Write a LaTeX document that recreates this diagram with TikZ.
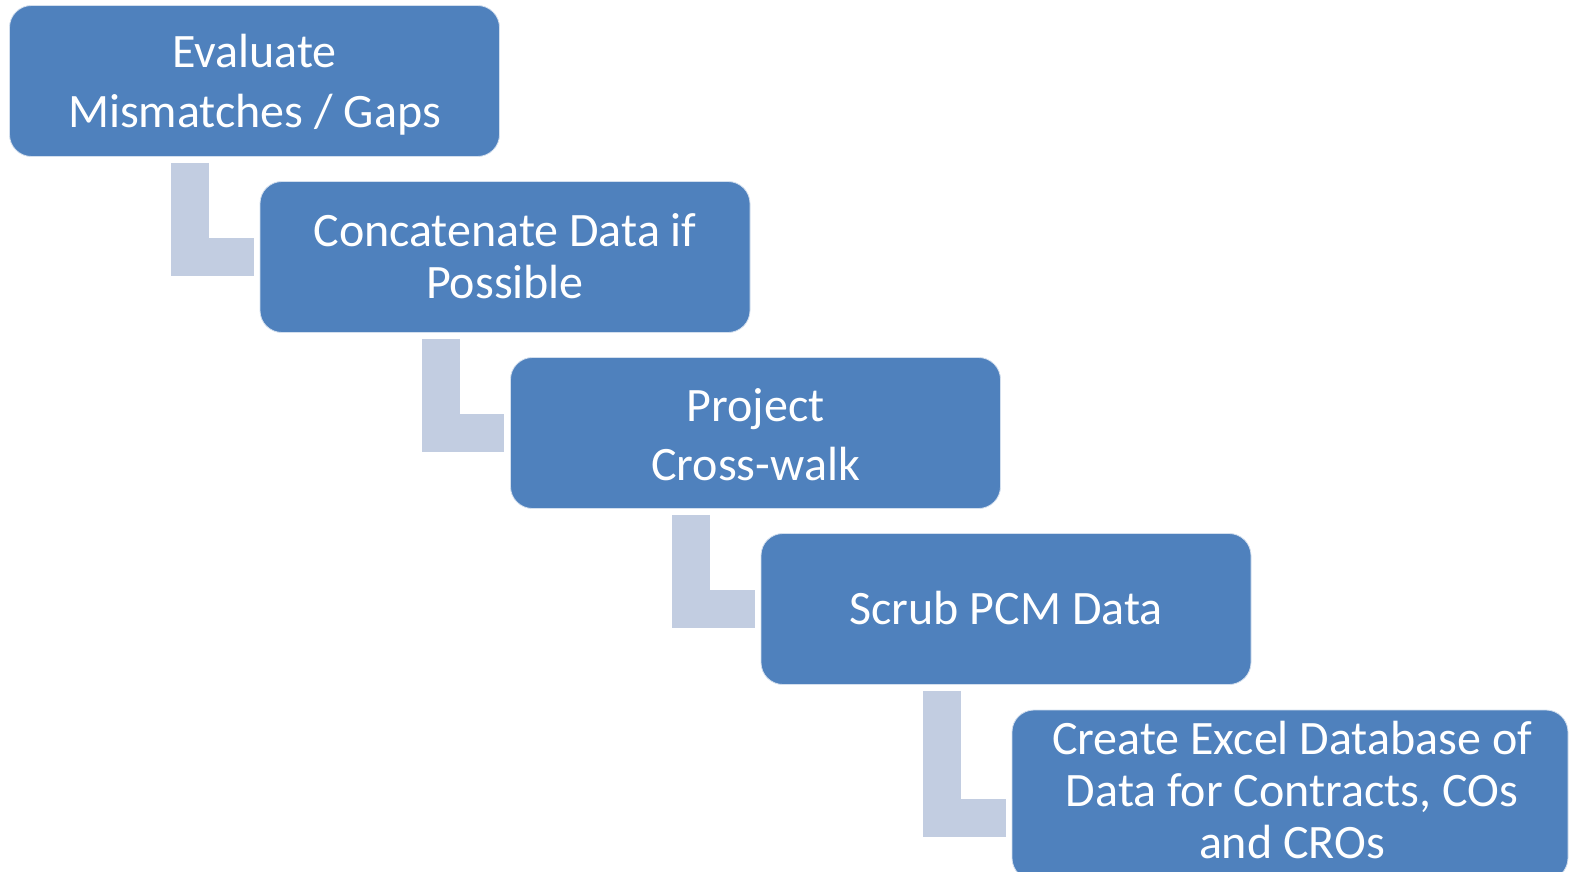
\documentclass[tikz,border=0pt]{standalone}
\usepackage{fontspec}
\setmainfont{Carlito}
\usetikzlibrary{calc}
\definecolor{boxblue}{RGB}{79,129,189}
\definecolor{connblue}{RGB}{194,205,225}
\tikzset{
  stepbox/.style={rectangle, rounded corners=22pt, fill=boxblue, draw=white!75!boxblue, line width=0.8pt,
    inner sep=0pt, minimum width=490pt, minimum height=151pt},
  steptext/.style={text=white, align=center, inner sep=0pt, font=\fontsize{48}{60}\selectfont},
  conn/.style={draw=connblue, line width=38pt, line cap=butt, line join=miter}
}
\begin{document}
\begin{tikzpicture}[x=1pt,y=-1pt]
\useasboundingbox (0,0) rectangle (1571,872);
\clip (0,0) rectangle (1571,872);
\node[stepbox] (b1) at (254.5,81) {};
\node[stepbox] (b2) at (505,257) {};
\node[stepbox] (b3) at (755.5,433) {};
\node[stepbox] (b4) at (1006,609) {};
\node[stepbox, minimum width=556pt, minimum height=170pt] (b5) at (1290,795) {};
\node[steptext] (t1) at ([yshift=-4pt]b1.center) {Evaluate\\Mismatches / Gaps};
\node[steptext, font=\fontsize{48}{52}\selectfont] (t2) at ([yshift=1pt]b2.center) {Concatenate Data if\\Possible};
\node[steptext, font=\fontsize{48}{59}\selectfont] (t3) at ([yshift=-2pt]b3.center) {Project\\Cross-walk};
\node[steptext] (t4) at ([yshift=1pt]b4.center) {Scrub PCM Data};
\node[steptext, font=\fontsize{48}{52}\selectfont] (t5) at ([xshift=2pt,yshift=4.5pt]b5.center) {Create Excel Database of\\Data for Contracts, COs\\and CROs};
\draw[conn] ([shift={(181pt,-6pt)}]b1.south west) |- ([xshift=-6pt]b2.west);
\draw[conn] ([shift={(181pt,-6pt)}]b2.south west) |- ([xshift=-6pt]b3.west);
\draw[conn] ([shift={(181pt,-6pt)}]b3.south west) |- ([xshift=-6pt]b4.west);
\draw[conn] ([shift={(181pt,-6pt)}]b4.south west) |- ([xshift=-6pt,yshift=-23pt]b5.west);
\end{tikzpicture}
\end{document}
